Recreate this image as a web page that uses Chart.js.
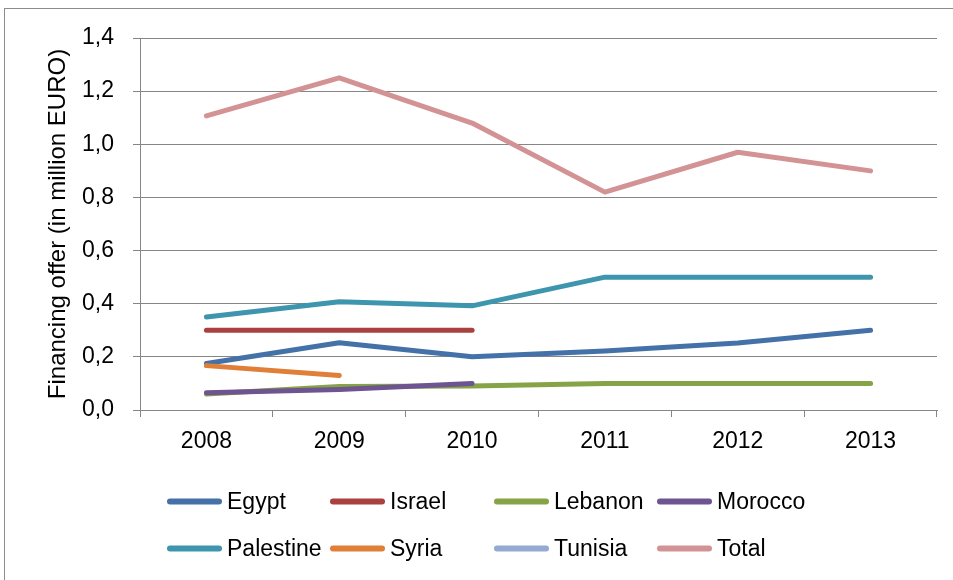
<!DOCTYPE html>
<html>
<head>
<meta charset="utf-8">
<script src="https://cdn.jsdelivr.net/npm/chart.js@4.4.0/dist/chart.umd.min.js"></script>
<style>
  body { margin: 0; background: #fff; }
  #frame { position: absolute; left: 4px; top: 8px; width: 1000px; height: 1000px; border: 1px solid #8c8c8c; }
  #wrap { position: absolute; left: 0; top: 0; width: 953px; height: 580px; }
  #legend { position: absolute; left: 167px; top: 501px; font-family: "Liberation Sans", sans-serif; font-size: 23px; color: #000; }
  .item { position: absolute; display: flex; align-items: center; white-space: nowrap; transform: translateY(-50%); }
  .swatch { width: 55px; height: 6px; border-radius: 3px; margin-right: 5px; }
</style>
</head>
<body>
<div id="frame"></div>
<div id="wrap"><canvas id="myChart" width="953" height="580"></canvas></div>
<div id="legend"></div>
<script>
  // years
  let anos = ['2008', '2009', '2010', '2011', '2012', '2013'];

  // series (million EURO)
  let egypt     = [0.175, 0.253, 0.20, 0.222, 0.252, 0.30];
  let israel    = [0.30, 0.30, 0.30, null, null, null];
  let lebanon   = [0.06, 0.088, 0.09, 0.10, 0.10, 0.10];
  let morocco   = [0.065, 0.077, 0.10, null, null, null];
  let palestine = [0.35, 0.407, 0.392, 0.50, 0.50, 0.50];
  let syria     = [0.167, 0.13, null, null, null, null];
  let tunisia   = [null, null, null, null, null, null];
  let total     = [1.107, 1.25, 1.08, 0.82, 0.97, 0.90];

  let nomes = ['Egypt', 'Israel', 'Lebanon', 'Morocco', 'Palestine', 'Syria', 'Tunisia', 'Total'];
  let series = [egypt, israel, lebanon, morocco, palestine, syria, tunisia, total];
  let cores = ['#4471a8', '#a8413f', '#86a447', '#6e5490', '#3d96ae', '#e07f37', '#94aad2', '#d39394'];

  let datasets = [];
  for (let i = 0; i < series.length; i++) {
    datasets.push({
      label: nomes[i],
      data: series[i],
      borderColor: cores[i],
      backgroundColor: cores[i],
      borderWidth: 5,
      borderCapStyle: 'round',
      borderJoinStyle: 'round',
      pointRadius: 0,
      tension: 0,
      order: series.length - i
    });
  }

  let fonte = { family: '"Liberation Sans", sans-serif', size: 23 };
  let grade = '#868686';

  let ctx = document.getElementById('myChart').getContext('2d');
  let myChart = new Chart(ctx, {
    type: 'line',
    data: { labels: anos, datasets: datasets },
    options: {
      responsive: false,
      animation: false,
      layout: { padding: { left: 0, top: 38, right: 16, bottom: 0 } },
      plugins: { legend: { display: false }, tooltip: { enabled: false } },
      scales: {
        x: {
          offset: true,
          grid: { display: true, offset: true, drawOnChartArea: false, drawTicks: true, tickLength: 7, color: grade },
          border: { display: true, color: grade, width: 1 },
          ticks: { color: '#000', font: fonte, padding: 11, maxRotation: 0 },
          afterFit: function(scale) { scale.height = 170; }
        },
        y: {
          min: 0,
          max: 1.4,
          grid: { color: grade, tickLength: 7, drawTicks: true },
          border: { display: true, color: grade, width: 1 },
          ticks: {
            stepSize: 0.2,
            color: '#000',
            font: fonte,
            padding: 19,
            callback: function(v) { return v.toFixed(1).replace('.', ','); }
          },
          title: {
            display: true,
            text: 'Financing offer (in million EURO)',
            color: '#000',
            font: { family: '"Liberation Sans", sans-serif', size: 24 },
            padding: { top: 44, bottom: 0 }
          },
          afterFit: function(scale) { scale.width = 140; }
        }
      }
    }
  });

  // legend 2 rows x 4 columns
  let leg = document.getElementById('legend');
  let colX = [0, 163, 327, 490];
  for (let i = 0; i < nomes.length; i++) {
    let d = document.createElement('div');
    d.className = 'item';
    d.style.left = colX[i % 4] + 'px';
    d.style.top = (Math.floor(i / 4) * 47) + 'px';
    d.innerHTML = '<span class="swatch" style="background:' + cores[i] + '"></span>' + nomes[i];
    leg.appendChild(d);
  }
</script>
</body>
</html>
